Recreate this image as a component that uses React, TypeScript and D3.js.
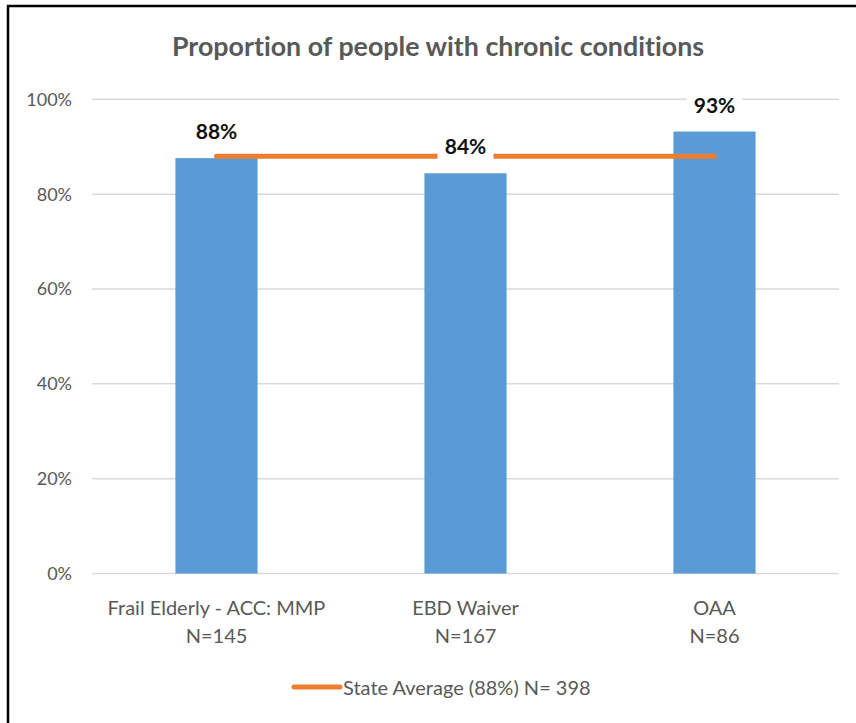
import React, { useRef, useEffect } from 'react';
import * as d3 from 'd3';

// 数据
const categories = ['Frail Elderly - ACC: MMP', 'EBD Waiver', 'OAA'];
const sampleSizes = ['N=145', 'N=167', 'N=86'];
const proportions = [0.876, 0.844, 0.932];
const stateAverage = 0.88;
const legendLabel = 'State Average (88%) N= 398';
const title = 'Proportion of people with chronic conditions';
const yTicks = [0, 0.2, 0.4, 0.6, 0.8, 1];

const WIDTH = 856;
const HEIGHT = 723;
const BAR_COLOR = '#5B9BD5';
const LINE_COLOR = '#ED7D31';
const GRID_COLOR = '#D9D9D9';
const TEXT_COLOR = '#595959';
const FONT = 'Lato, "Open Sans", sans-serif';

function drawChart(svgEle: SVGSVGElement) {
  const svg = d3.select(svgEle);
  svg.selectAll('*').remove();

  const margin = { top: 99.3, right: 17, bottom: 149.5, left: 92 };
  const fmt = d3.format('.0%');

  // 外框，右侧和底部在图外
  svg
    .append('rect')
    .attr('x', 8)
    .attr('y', 6)
    .attr('width', WIDTH)
    .attr('height', HEIGHT)
    .attr('fill', 'white')
    .attr('stroke', '#000')
    .attr('stroke-width', 2.5);

  // 标题
  svg
    .append('text')
    .attr('x', 438)
    .attr('y', 56)
    .attr('text-anchor', 'middle')
    .attr('font-family', FONT)
    .attr('font-weight', 'bold')
    .attr('font-size', 26.8)
    .attr('fill', TEXT_COLOR)
    .style('font-variant-ligatures', 'none')
    .text(title);

  const x = d3
    .scaleBand()
    .domain(categories)
    .range([margin.left, WIDTH - margin.right])
    .padding(0);
  const barWidth = x.bandwidth() * 0.33;
  const cx = (c: string) => (x(c) as number) + x.bandwidth() / 2;

  const y = d3
    .scaleLinear()
    .domain([0, 1])
    .range([HEIGHT - margin.bottom, margin.top]);

  // 网格线和 y 轴标签
  svg
    .selectAll()
    .data(yTicks)
    .enter()
    .append('line')
    .attr('x1', margin.left)
    .attr('x2', WIDTH - margin.right)
    .attr('y1', (d) => y(d))
    .attr('y2', (d) => y(d))
    .attr('stroke', GRID_COLOR)
    .attr('stroke-width', 1.5);
  svg
    .selectAll()
    .data(yTicks)
    .enter()
    .append('text')
    .attr('x', 72)
    .attr('y', (d) => y(d) + 6.5)
    .attr('text-anchor', 'end')
    .attr('font-family', FONT)
    .attr('font-size', 18)
    .attr('fill', TEXT_COLOR)
    .text((d) => fmt(d));

  // 柱子
  svg
    .selectAll()
    .data(categories)
    .enter()
    .append('rect')
    .attr('x', (d) => cx(d) - barWidth / 2)
    .attr('y', (d, i) => y(proportions[i]))
    .attr('width', barWidth)
    .attr('height', (d, i) => y(0) - y(proportions[i]))
    .attr('fill', BAR_COLOR);

  // 州平均线
  svg
    .append('line')
    .attr('x1', cx(categories[0]))
    .attr('x2', cx(categories[categories.length - 1]))
    .attr('y1', y(stateAverage))
    .attr('y2', y(stateAverage))
    .attr('stroke', LINE_COLOR)
    .attr('stroke-width', 5)
    .attr('stroke-linecap', 'round');

  // 数据标签（白底）
  const labels = svg
    .selectAll()
    .data(categories)
    .enter()
    .append('g')
    .attr('transform', (d, i) => `translate(${cx(d)}, ${y(proportions[i]) - 19})`);
  labels
    .append('rect')
    .attr('x', -28)
    .attr('y', -19)
    .attr('width', 56)
    .attr('height', 25)
    .attr('fill', 'white');
  labels
    .append('text')
    .attr('text-anchor', 'middle')
    .attr('font-family', FONT)
    .attr('font-weight', 'bold')
    .attr('font-size', 21)
    .attr('fill', '#111')
    .text((d, i) => fmt(proportions[i]));

  // x 轴分类标签
  svg
    .selectAll()
    .data(categories)
    .enter()
    .append('text')
    .attr('x', (d) => cx(d))
    .attr('y', 615)
    .attr('text-anchor', 'middle')
    .attr('font-family', FONT)
    .attr('font-size', 20)
    .attr('fill', TEXT_COLOR)
    .text((d) => d);
  svg
    .selectAll()
    .data(categories)
    .enter()
    .append('text')
    .attr('x', (d) => cx(d))
    .attr('y', 643)
    .attr('text-anchor', 'middle')
    .attr('font-family', FONT)
    .attr('font-size', 20)
    .attr('fill', TEXT_COLOR)
    .text((d, i) => sampleSizes[i]);

  // 图例
  svg
    .append('line')
    .attr('x1', 294)
    .attr('x2', 340)
    .attr('y1', 687)
    .attr('y2', 687)
    .attr('stroke', LINE_COLOR)
    .attr('stroke-width', 5)
    .attr('stroke-linecap', 'round');
  svg
    .append('text')
    .attr('x', 343)
    .attr('y', 695)
    .attr('font-family', FONT)
    .attr('font-size', 20)
    .attr('fill', TEXT_COLOR)
    .text(legendLabel);
}

export default function App(): JSX.Element {
  const svgRef = useRef<SVGSVGElement>(null);

  useEffect(() => {
    const svgEle = svgRef.current;
    if (svgEle == null) {
      return;
    }
    drawChart(svgEle);
  }, []);

  return (
    <svg
      ref={svgRef}
      width={WIDTH}
      height={HEIGHT}
      style={{ position: 'absolute', left: 0, top: 0, background: 'white' }}
    />
  );
}
